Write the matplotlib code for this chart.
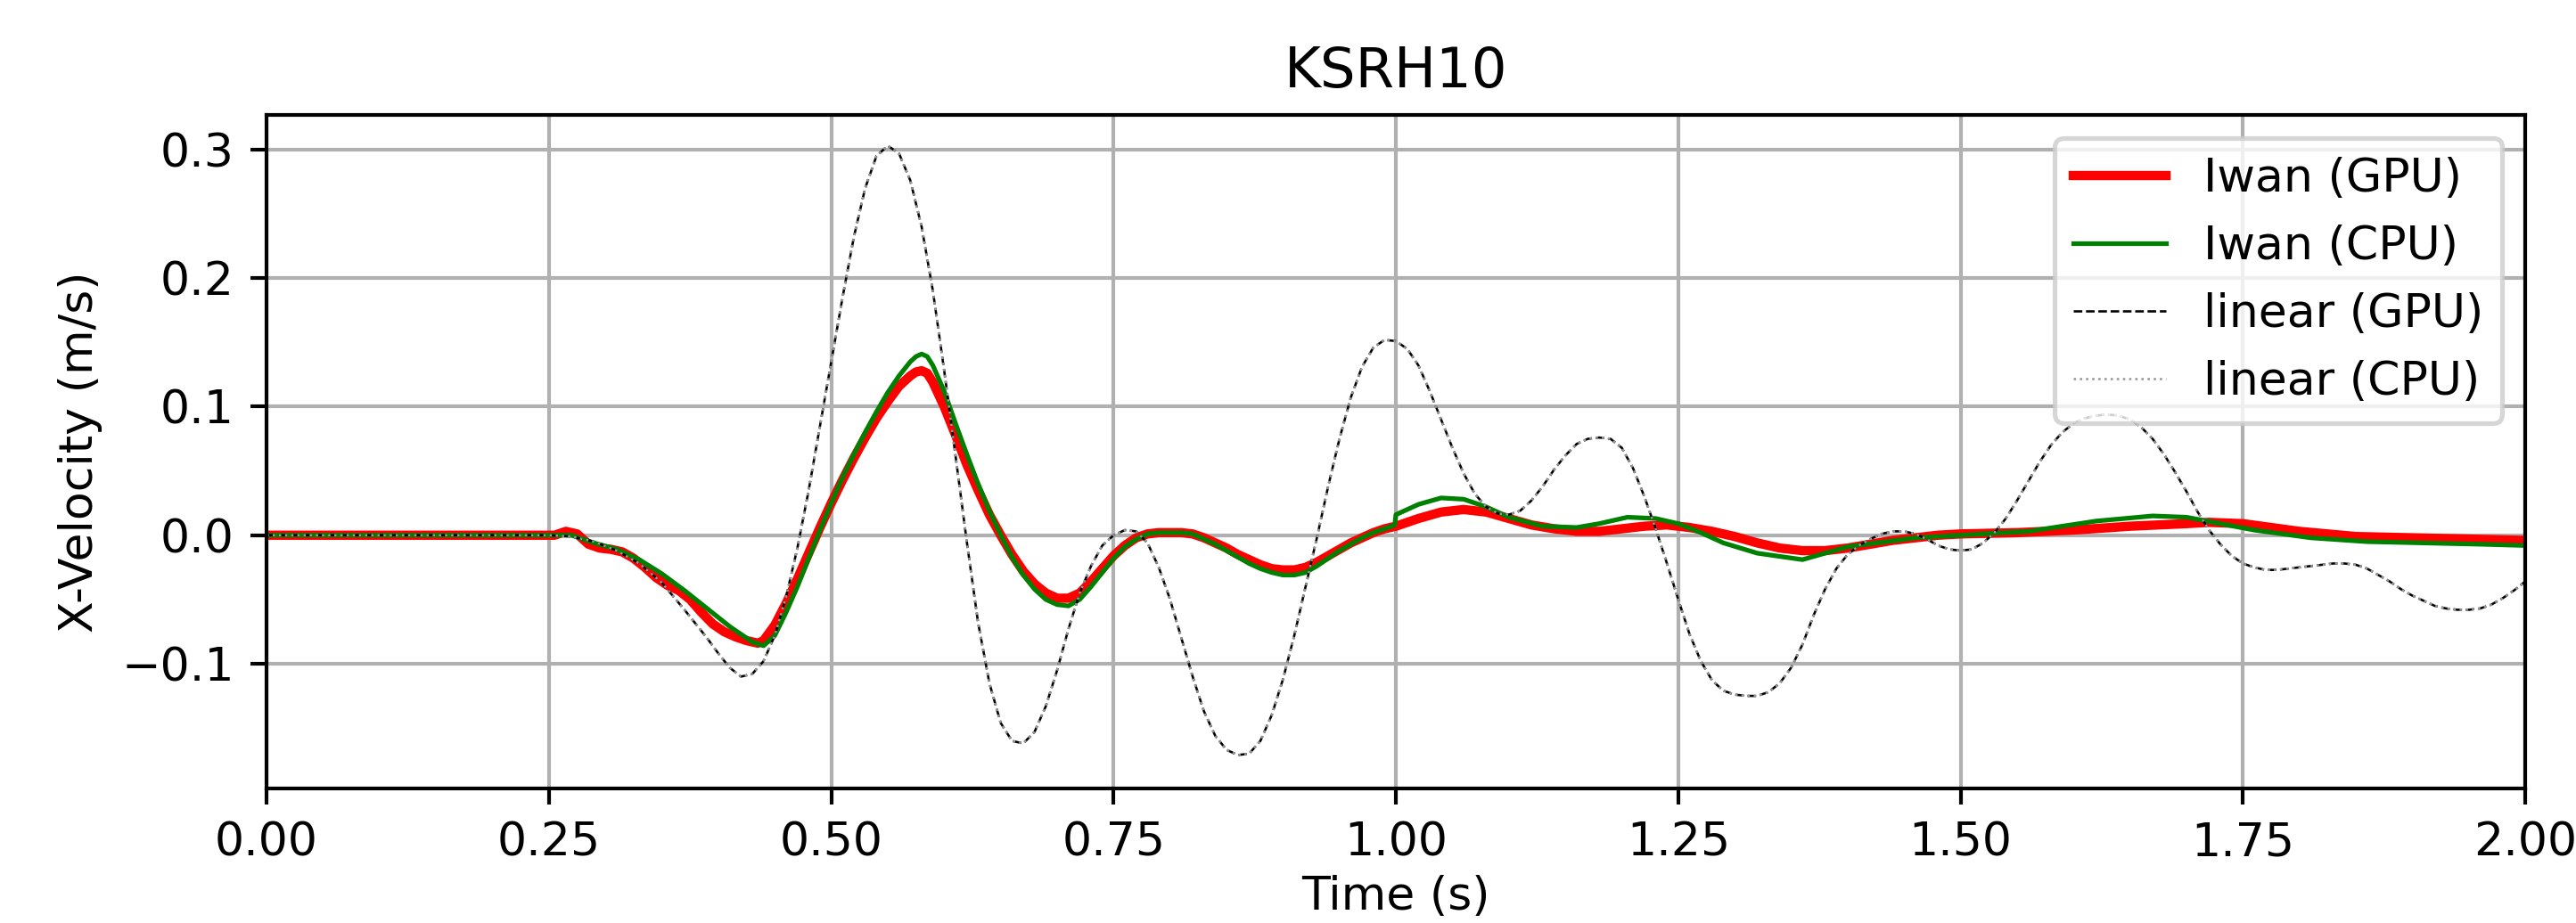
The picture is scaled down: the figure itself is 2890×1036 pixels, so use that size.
import numpy as np
import matplotlib
matplotlib.use('Agg')
import matplotlib.pyplot as plt

# time axis (s) for each curve (m/s)
lin_t = [0.0, 0.25, 0.27, 0.29, 0.31, 0.33, 0.35, 0.37, 0.39, 0.40, 0.41, 0.42, 0.43, 0.44,
         0.45, 0.46, 0.47, 0.48, 0.49, 0.50, 0.51, 0.52, 0.53, 0.54, 0.55, 0.56, 0.57, 0.58,
         0.59, 0.60, 0.61, 0.62, 0.63, 0.64, 0.65, 0.66, 0.67, 0.68, 0.69, 0.70, 0.71, 0.72,
         0.73, 0.74, 0.75, 0.76, 0.77, 0.78, 0.79, 0.80, 0.81, 0.82, 0.83, 0.84, 0.85, 0.86,
         0.87, 0.88, 0.89, 0.90, 0.91, 0.92, 0.93, 0.94, 0.95, 0.96, 0.97, 0.98, 0.99, 1.00,
         1.01, 1.02, 1.03, 1.04, 1.05, 1.06, 1.07, 1.08, 1.09, 1.10, 1.11, 1.12, 1.13, 1.14,
         1.15, 1.16, 1.17, 1.18, 1.19, 1.20, 1.21, 1.22, 1.23, 1.24, 1.25, 1.26, 1.27, 1.28,
         1.29, 1.30, 1.31, 1.32, 1.33, 1.34, 1.35, 1.36, 1.37, 1.38, 1.39, 1.40, 1.41, 1.42,
         1.43, 1.44, 1.45, 1.46, 1.47, 1.48, 1.49, 1.50, 1.51, 1.52, 1.53, 1.54, 1.55, 1.56,
         1.57, 1.58, 1.59, 1.60, 1.61, 1.62, 1.63, 1.64, 1.65, 1.66, 1.67, 1.68, 1.69, 1.70,
         1.71, 1.72, 1.73, 1.74, 1.75, 1.76, 1.77, 1.78, 1.79, 1.80, 1.81, 1.82, 1.83, 1.84,
         1.85, 1.86, 1.87, 1.88, 1.89, 1.90, 1.91, 1.92, 1.93, 1.94, 1.95, 1.96, 1.97, 1.98,
         1.99, 2.00]
lin_gpu = [0.0, 0.0, -0.001, -0.005, -0.012, -0.022, -0.037, -0.058, -0.080, -0.092, -0.103,
           -0.110, -0.108, -0.098, -0.078, -0.048, -0.010, 0.035, 0.085, 0.135, 0.185, 0.232,
           0.270, 0.295, 0.303, 0.297, 0.276, 0.240, 0.190, 0.128, 0.062, -0.005, -0.068,
           -0.115, -0.146, -0.160, -0.162, -0.153, -0.133, -0.105, -0.073, -0.045, -0.024,
           -0.008, 0.000, 0.004, 0.003, -0.006, -0.025, -0.050, -0.080, -0.110, -0.137, -0.156,
           -0.167, -0.171, -0.170, -0.160, -0.140, -0.112, -0.078, -0.040, -0.002, 0.038,
           0.075, 0.107, 0.131, 0.146, 0.152, 0.151, 0.145, 0.132, 0.112, 0.090, 0.068, 0.048,
           0.032, 0.022, 0.017, 0.016, 0.019, 0.027, 0.038, 0.051, 0.062, 0.071, 0.075, 0.076,
           0.075, 0.068, 0.052, 0.030, 0.005, -0.022, -0.050, -0.077, -0.098, -0.113, -0.121,
           -0.124, -0.125, -0.125, -0.122, -0.115, -0.103, -0.085, -0.062, -0.042, -0.026,
           -0.015, -0.008, -0.003, 0.001, 0.003, 0.003, 0.001, -0.003, -0.008, -0.011, -0.012,
           -0.011, -0.006, 0.002, 0.013, 0.027, 0.042, 0.057, 0.070, 0.080, 0.087, 0.091, 0.093,
           0.094, 0.093, 0.090, 0.084, 0.075, 0.063, 0.049, 0.034, 0.018, 0.004, -0.007, -0.016,
           -0.022, -0.025, -0.027, -0.027, -0.026, -0.025, -0.024, -0.023, -0.022, -0.022,
           -0.023, -0.026, -0.031, -0.036, -0.042, -0.047, -0.051, -0.055, -0.057, -0.058,
           -0.058, -0.057, -0.054, -0.049, -0.043, -0.036]
lin_cpu = list(lin_gpu)

gpu_t = [0.0, 0.25, 0.255, 0.265, 0.275, 0.285, 0.295, 0.305, 0.315, 0.325, 0.335, 0.345,
         0.355, 0.365, 0.375, 0.385, 0.395, 0.405, 0.415, 0.425, 0.435, 0.44, 0.45, 0.46,
         0.47, 0.48, 0.49, 0.50, 0.51, 0.52, 0.53, 0.54, 0.55, 0.56, 0.57, 0.575, 0.58, 0.585,
         0.59, 0.60, 0.61, 0.62, 0.63, 0.64, 0.65, 0.66, 0.67, 0.68, 0.69, 0.70, 0.71, 0.72,
         0.73, 0.74, 0.75, 0.76, 0.77, 0.78, 0.79, 0.80, 0.81, 0.82, 0.83, 0.84, 0.85, 0.86,
         0.87, 0.88, 0.89, 0.90, 0.91, 0.92, 0.93, 0.94, 0.95, 0.96, 0.97, 0.98, 0.99, 1.00,
         1.02, 1.04, 1.06, 1.08, 1.10, 1.12, 1.14, 1.16, 1.18, 1.20, 1.22, 1.24, 1.26, 1.28,
         1.30, 1.32, 1.34, 1.36, 1.38, 1.40, 1.42, 1.44, 1.46, 1.48, 1.50, 1.55, 1.60, 1.65,
         1.70, 1.72, 1.75, 1.80, 1.85, 1.90, 1.95, 2.00]
gpu_v = [0.0, 0.0, 0.0, 0.003, 0.001, -0.007, -0.010, -0.011, -0.013, -0.018, -0.025, -0.033,
         -0.039, -0.043, -0.050, -0.060, -0.069, -0.075, -0.079, -0.082, -0.084, -0.082,
         -0.070, -0.053, -0.034, -0.014, 0.006, 0.025, 0.043, 0.060, 0.076, 0.091, 0.104,
         0.116, 0.124, 0.127, 0.128, 0.126, 0.119, 0.100, 0.078, 0.055, 0.035, 0.016, 0.000,
         -0.015, -0.028, -0.038, -0.045, -0.049, -0.049, -0.045, -0.036, -0.026, -0.016,
         -0.008, -0.002, 0.001, 0.002, 0.002, 0.002, 0.001, -0.002, -0.006, -0.010, -0.015,
         -0.019, -0.023, -0.026, -0.027, -0.027, -0.025, -0.021, -0.016, -0.011, -0.006,
         -0.002, 0.002, 0.005, 0.007, 0.013, 0.018, 0.020, 0.018, 0.013, 0.008, 0.005, 0.003,
         0.003, 0.005, 0.007, 0.008, 0.006, 0.003, -0.001, -0.006, -0.010, -0.012, -0.012,
         -0.010, -0.007, -0.004, -0.002, 0.000, 0.001, 0.002, 0.004, 0.007, 0.009, 0.010,
         0.009, 0.003, -0.001, -0.002, -0.003, -0.004]

cpu_t = [0.0, 0.27, 0.29, 0.31, 0.33, 0.35, 0.37, 0.39, 0.41, 0.43, 0.44, 0.45, 0.46, 0.47,
         0.48, 0.49, 0.50, 0.51, 0.52, 0.53, 0.54, 0.55, 0.56, 0.57, 0.575, 0.58, 0.585, 0.59,
         0.60, 0.61, 0.62, 0.63, 0.64, 0.65, 0.66, 0.67, 0.68, 0.69, 0.70, 0.71, 0.72, 0.73,
         0.74, 0.75, 0.76, 0.77, 0.78, 0.79, 0.80, 0.81, 0.82, 0.83, 0.84, 0.85, 0.86, 0.87,
         0.88, 0.89, 0.90, 0.91, 0.92, 0.93, 0.94, 0.95, 0.96, 0.97, 0.98, 0.99, 0.999, 1.0,
         1.02, 1.04, 1.06, 1.08, 1.10, 1.13, 1.16, 1.18, 1.205, 1.23, 1.25, 1.27, 1.29, 1.32,
         1.36, 1.40, 1.46, 1.50, 1.56, 1.62, 1.67, 1.70, 1.73, 1.76, 1.81, 1.86, 1.91, 1.96,
         2.00]
cpu_v = [0.0, 0.0, -0.006, -0.011, -0.019, -0.030, -0.043, -0.057, -0.071, -0.083, -0.086,
         -0.078, -0.060, -0.040, -0.018, 0.004, 0.025, 0.045, 0.063, 0.080, 0.096, 0.111,
         0.124, 0.135, 0.139, 0.141, 0.139, 0.132, 0.112, 0.087, 0.063, 0.040, 0.019, 0.000,
         -0.017, -0.031, -0.042, -0.050, -0.054, -0.055, -0.050, -0.040, -0.029, -0.018,
         -0.009, -0.003, 0.001, 0.002, 0.002, 0.002, 0.001, -0.003, -0.007, -0.012, -0.017,
         -0.022, -0.026, -0.029, -0.031, -0.031, -0.029, -0.024, -0.018, -0.012, -0.007,
         -0.002, 0.002, 0.005, 0.008, 0.016, 0.024, 0.029, 0.028, 0.022, 0.014, 0.007, 0.006,
         0.009, 0.014, 0.013, 0.009, 0.002, -0.006, -0.014, -0.019, -0.009, -0.002, 0.000,
         0.003, 0.011, 0.015, 0.014, 0.009, 0.004, -0.002, -0.005, -0.006, -0.007, -0.008]

fig = plt.figure(figsize=(2890 / 375, 1036 / 375), dpi=375)
ax = fig.add_subplot(111)
fig.subplots_adjust(left=0.1035, right=0.9803, top=0.8755, bottom=0.1458)

ax.plot(gpu_t, gpu_v, color='red', lw=2, label='Iwan (GPU)')
ax.plot(cpu_t, cpu_v, color='green', lw=1, label='Iwan (CPU)')
ax.plot(lin_t, lin_gpu, 'k--', lw=0.5, label='linear (GPU)')
ax.plot(lin_t, lin_cpu, color='0.6', ls=':', lw=0.5, label='linear (CPU)')

ax.set_xlim(0, 2)
ax.set_ylim(-0.197, 0.327)
ax.set_xticks(np.arange(0, 2.01, 0.25))
ax.set_yticks([-0.1, 0.0, 0.1, 0.2, 0.3])
ax.grid(True)
ax.set_title('KSRH10')
ax.set_xlabel('Time (s)', labelpad=2)
ax.set_ylabel('X-Velocity (m/s)')
ax.legend(loc='upper right')

fig.savefig('out.png', dpi=375)
